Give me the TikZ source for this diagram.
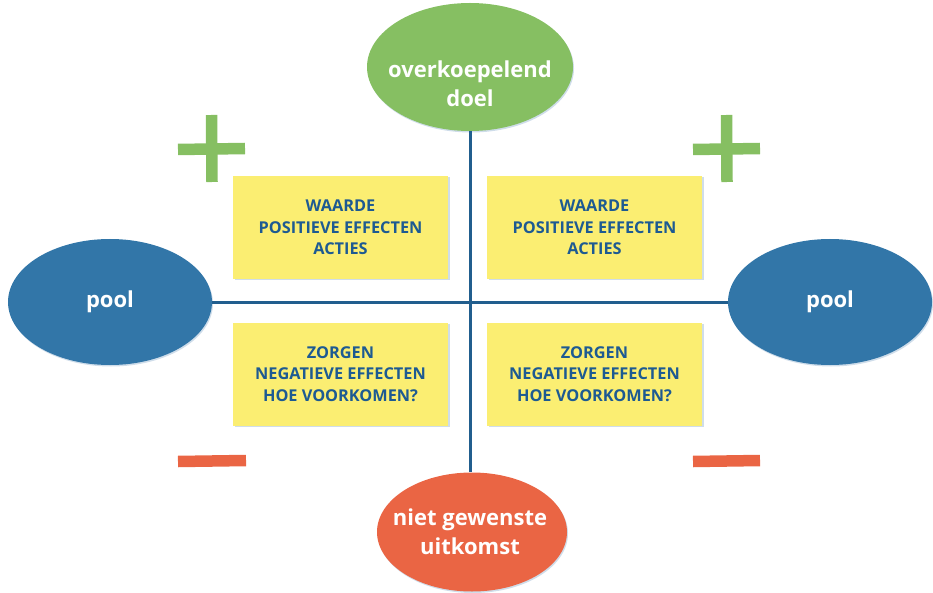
\documentclass[tikz,border=0pt]{standalone}
\usepackage{fontspec}
\setmainfont{Open Sans}
\usetikzlibrary{shapes.geometric,shadows}

\definecolor{doelgreen}{HTML}{86BF62}
\definecolor{poolblue}{HTML}{3276A8}
\definecolor{uitkomstred}{HTML}{EA6544}
\definecolor{noteyellow}{HTML}{FBEE72}
\definecolor{notetext}{HTML}{1D5A92}
\definecolor{axisblue}{HTML}{215E8E}
\definecolor{shadowblue}{HTML}{CFDDEA}

\tikzset{
  blob/.style={ellipse, inner sep=0pt, text=white, align=center,
    font=\fontsize{22}{29}\selectfont\bfseries,
    drop shadow={shadow xshift=1pt, shadow yshift=-1.5pt, fill=shadowblue, opacity=1}},
  blobtext/.style={text=white, align=center, font=\fontsize{22}{29}\selectfont\bfseries},
  note/.style={rectangle, fill=noteyellow, minimum width=215pt, minimum height=103pt,
    text=notetext, align=center, font=\fontsize{16.3}{21.5}\selectfont\bfseries,
    drop shadow={shadow xshift=1.5pt, shadow yshift=-1.5pt, fill=shadowblue, opacity=1}},
  axis/.style={axisblue, line width=3pt},
  sign/.style={line width=11.5pt},
}

\begin{document}
\begin{tikzpicture}[x=1pt, y=-1pt]
  \useasboundingbox (0,0) rectangle (933,593);

  % ellipses at the four ends
  \node[blob, fill=doelgreen, minimum width=206pt, minimum height=128pt,
    label={[blobtext, yshift=-17pt]center:overkoepelend\\doel}]
    (doel) at (470,67) {};
  \node[blob, fill=uitkomstred, minimum width=190pt, minimum height=119pt,
    label={[blobtext, xshift=-2pt]center:niet gewenste\\uitkomst}]
    (uitkomst) at (472,532) {};
  \node[blob, fill=poolblue, minimum width=204pt, minimum height=126pt]
    (poolL) at (110,302) {pool};
  \node[blob, fill=poolblue, minimum width=204pt, minimum height=126pt]
    (poolR) at (830,302) {pool};

  % the two axes
  \begin{scope}[axis]
    \draw (doel) -- (doel |- uitkomst.north);
    \draw (poolL) -- (poolR);
  \end{scope}

  % notes in the quadrants
  \node[note] (plusL) at (340.5,227.5) {WAARDE\\POSITIEVE EFFECTEN\\ACTIES};
  \node[note] (plusR) at (594.5,227.5) {WAARDE\\POSITIEVE EFFECTEN\\ACTIES};
  \node[note] (minL) at (340.5,374) {ZORGEN\\NEGATIEVE EFFECTEN\\HOE VOORKOMEN?};
  \node[note] (minR) at (594.5,374) {ZORGEN\\NEGATIEVE EFFECTEN\\HOE VOORKOMEN?};

  % plus and minus signs
  \begin{scope}[sign, doelgreen]
    \draw (178,149.5) -- (245,148.5);
    \draw (211.5,115) -- (212,182);
    \draw (693,149.5) -- (760,148.5);
    \draw (726.5,115) -- (727,182);
  \end{scope}
  \begin{scope}[sign, uitkomstred]
    \draw (178,461.5) -- (246,460.5);
    \draw (693,461.5) -- (760,460.5);
  \end{scope}
\end{tikzpicture}
\end{document}
